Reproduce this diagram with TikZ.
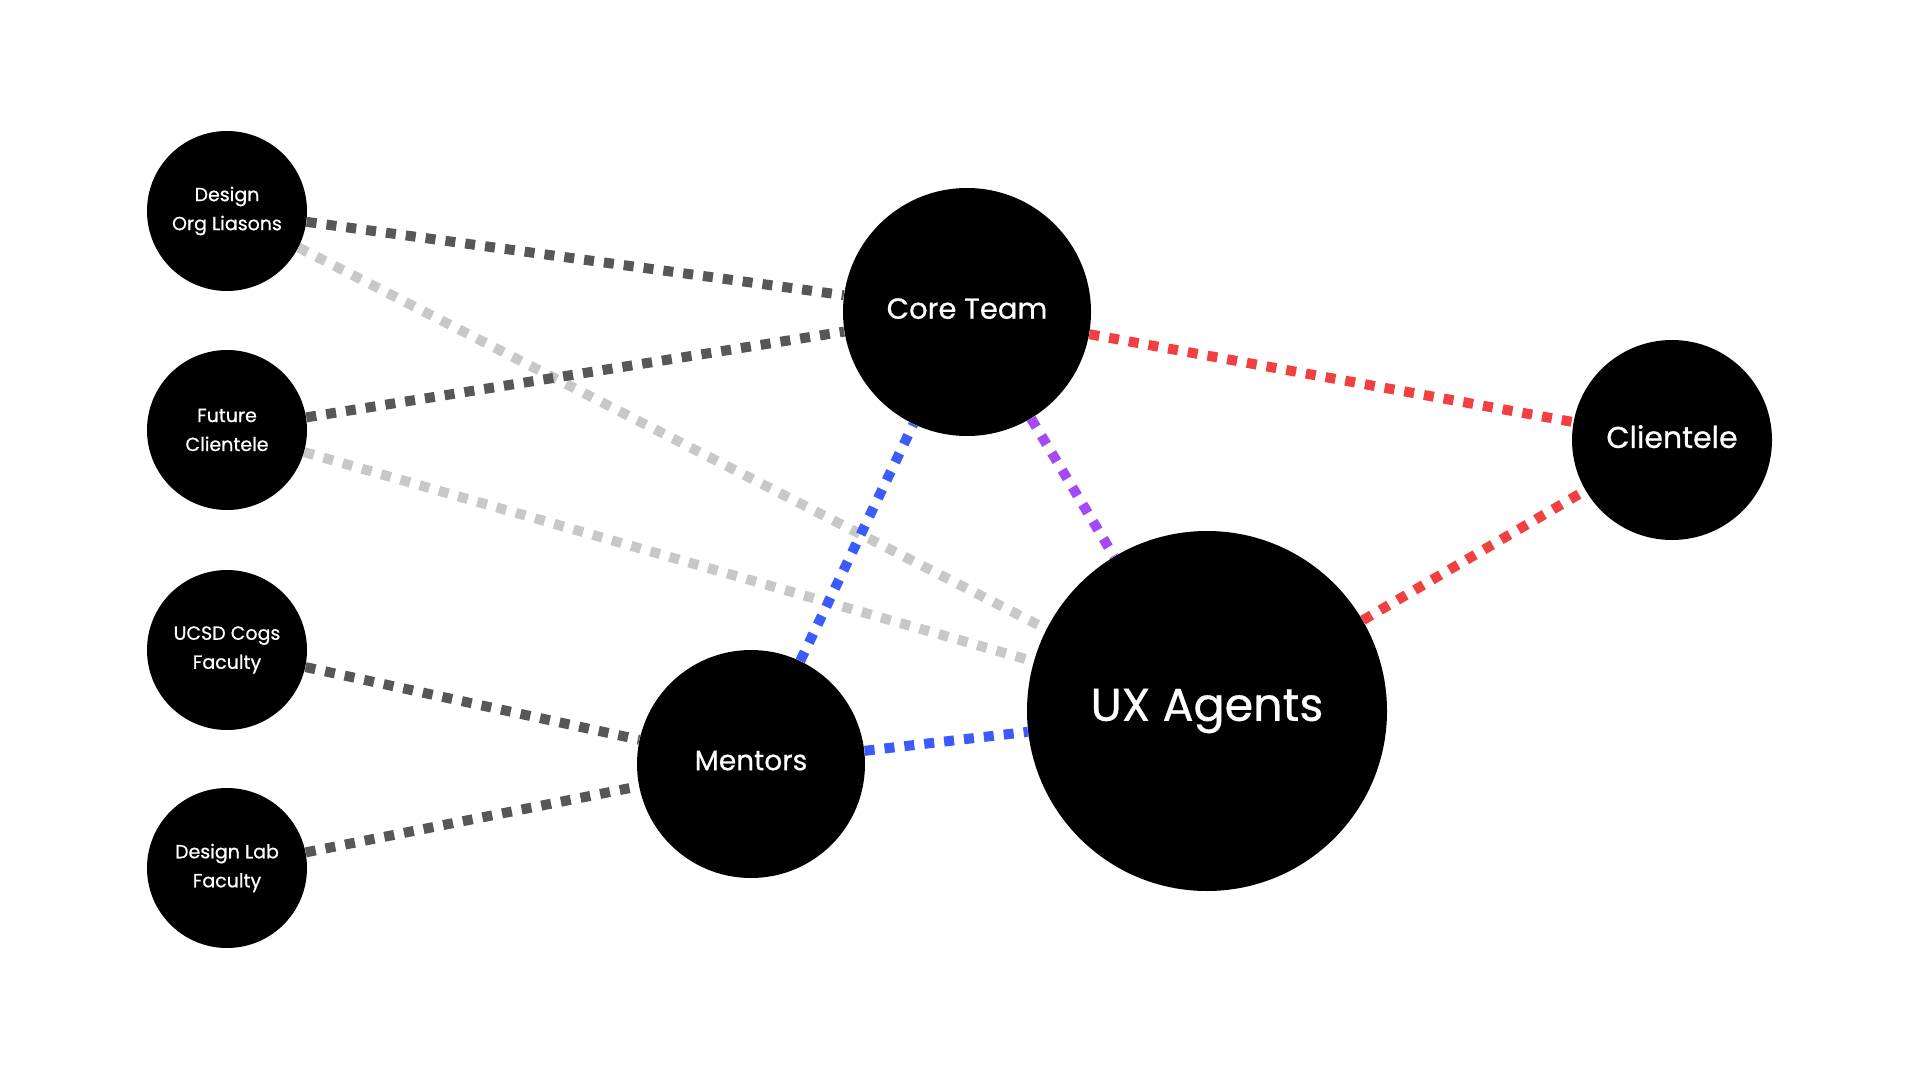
\documentclass[tikz,border=0pt]{standalone}
\usepackage{fontspec}
\setmainfont{Poppins}[BoldFont=Poppins, BoldFeatures={FakeBold=0.7}]
\usetikzlibrary{backgrounds}
\definecolor{darkg}{HTML}{575757}
\definecolor{lightg}{HTML}{C8C8C8}
\definecolor{blueE}{HTML}{3B5BFF}
\definecolor{purpE}{HTML}{A548F5}
\definecolor{redE}{HTML}{F23F3F}
\tikzset{
  bubble/.style={circle, fill=black, text=white, inner sep=0pt, align=center},
  small/.style={bubble, minimum size=80pt, font=\fontsize{9.5}{14.5}\selectfont\bfseries},
  big/.style={bubble, font=\fontsize{14.5}{17}\selectfont\bfseries},
  link/.style={line width=5pt, dash pattern=on 5pt off 5pt},
}
\begin{document}
\begin{tikzpicture}[x=0.5pt, y=-0.5pt]
\useasboundingbox (0,0) rectangle (1920,1080);
\node[small] (dol) at (227,211) {Design\\Org Liasons};
\node[small] (fc) at (227,430) {Future\\Clientele};
\node[small] (ucsd) at (227,650) {UCSD Cogs\\Faculty};
\node[small] (dlf) at (227,868) {Design Lab\\Faculty};
\node[big, minimum size=124pt] (core) at (967,312) {\raisebox{3.5pt}{Core Team}};
\node[big, minimum size=114pt, font=\fontsize{14}{17}\selectfont\bfseries] (ment) at (751,764) {\raisebox{3.5pt}{Mentors}};
\node[big, minimum size=100pt, font=\fontsize{15}{17}\selectfont\bfseries] (cli) at (1672,440) {\raisebox{3.5pt}{Clientele}};
\node[big, minimum size=180pt, font=\fontsize{23}{26}\selectfont\bfseries] (ux) at (1207,711) {\raisebox{2.5pt}{UX Agents}};
\begin{scope}[on background layer]
\draw[link, lightg] (dol) -- (ux);
\draw[link, lightg] (fc) -- (ux);
\draw[link, darkg] (dol) -- (core);
\draw[link, darkg] (fc) -- (core);
\draw[link, darkg] (ucsd) -- (ment);
\draw[link, darkg] (dlf) -- (ment);
\draw[link, blueE] (ment) -- (core);
\draw[link, blueE] (ment) -- (ux);
\draw[link, purpE] (core) -- (ux);
\draw[link, redE] (core) -- (cli);
\draw[link, redE] (ux) -- (cli);
\end{scope}
\end{tikzpicture}
\end{document}
